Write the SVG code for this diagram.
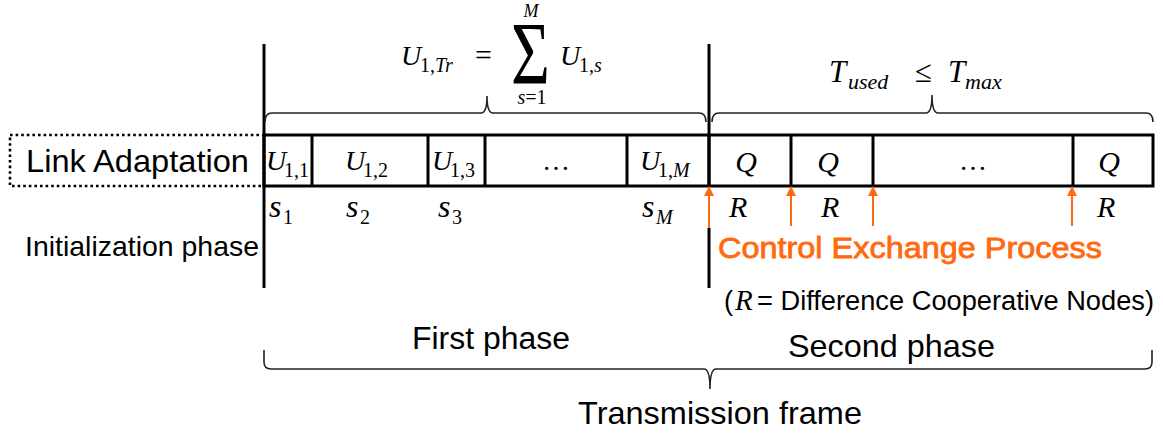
<svg xmlns="http://www.w3.org/2000/svg" width="1163" height="437" viewBox="0 0 1163 437">
<style>
.sans{font-family:"Liberation Sans",Arial,sans-serif;fill:#000}
.m{font-family:"Liberation Serif","Times New Roman",serif;fill:#000}
.i{font-style:italic}
.frame{fill:none;stroke:#000;stroke-width:3}
.brace{fill:none;stroke:#222;stroke-width:1.6}
.orange{stroke:#FF6A10;stroke-width:2;fill:none}
</style>
<defs>
<marker id="ah" viewBox="0 0 10 10" refX="9" refY="5" markerWidth="10" markerHeight="10" markerUnits="userSpaceOnUse" orient="auto">
<path d="M0,0 L10,5 L0,10 Z" fill="#FF6A10"/>
</marker>
</defs>
<rect width="1163" height="437" fill="#fff"/>

<g id="link-adaptation">
<rect x="10" y="135" width="254" height="51" fill="none" stroke="#000" stroke-width="2.6" stroke-dasharray="2.6 3"/>
<text class="sans" x="26" y="172" font-size="32" textLength="223" lengthAdjust="spacingAndGlyphs">Link Adaptation</text>
</g>

<g id="init-phase">
<text class="sans" x="25" y="256" font-size="28.5" textLength="234" lengthAdjust="spacingAndGlyphs">Initialization phase</text>
</g>

<g id="phase-lines">
<line x1="264" y1="44" x2="264" y2="288" stroke="#000" stroke-width="3"/>
<line x1="709" y1="44" x2="709" y2="187" stroke="#000" stroke-width="3"/>
<line x1="709" y1="228" x2="709" y2="288" stroke="#000" stroke-width="3"/>
</g>

<g id="slot-row">
<rect class="frame" x="264" y="135" width="889" height="51"/>
<path d="M312,135V186M428,135V186M485,135V186M627,135V186M709,135V186M791,135V186M873,135V186M1073,135V186" stroke="#000" stroke-width="3"/>
</g>

<g id="slot-u11">
<text class="m i" x="266" y="170" font-size="28">U</text>
<text class="m" x="284" y="177" font-size="20">1,1</text>
</g>
<g id="slot-u12">
<text class="m i" x="345" y="170" font-size="28">U</text>
<text class="m" x="363" y="177" font-size="20">1,2</text>
</g>
<g id="slot-u13">
<text class="m i" x="432" y="170" font-size="28">U</text>
<text class="m" x="450" y="177" font-size="20">1,3</text>
</g>
<g id="slot-dots1">
<text class="m" x="556" y="170" font-size="28" text-anchor="middle">…</text>
</g>
<g id="slot-u1m">
<text class="m i" x="640" y="170" font-size="28">U</text>
<text class="m" x="658" y="177" font-size="20">1,<tspan class="i">M</tspan></text>
</g>
<g id="slot-q1">
<text class="m i" x="746" y="172" font-size="30" text-anchor="middle">Q</text>
</g>
<g id="slot-q2">
<text class="m i" x="828" y="172" font-size="30" text-anchor="middle">Q</text>
</g>
<g id="slot-dots2">
<text class="m" x="973" y="170" font-size="28" text-anchor="middle">…</text>
</g>
<g id="slot-q3">
<text class="m i" x="1109" y="172" font-size="30" text-anchor="middle">Q</text>
</g>

<g id="slot-labels">
<text class="m i" x="269" y="217" font-size="32">s</text><text class="m" x="283" y="224" font-size="20">1</text>
<text class="m i" x="346" y="217" font-size="32">s</text><text class="m" x="360" y="224" font-size="20">2</text>
<text class="m i" x="438" y="217" font-size="32">s</text><text class="m" x="452" y="224" font-size="20">3</text>
<text class="m i" x="642" y="217" font-size="32">s</text><text class="m i" x="656" y="224" font-size="20">M</text>
<text class="m i" x="729" y="217" font-size="30">R</text>
<text class="m i" x="821" y="217" font-size="30">R</text>
<text class="m i" x="1097" y="217" font-size="30">R</text>
</g>

<g id="formula-u">
<text class="m i" x="401" y="65" font-size="28">U</text>
<text class="m" x="420" y="72" font-size="20">1,<tspan class="i">Tr</tspan></text>
<text class="m" x="475" y="65" font-size="30">=</text>
<text class="m" x="0" y="0" font-size="88" transform="translate(511,83) scale(0.76,1)">Σ</text>
<text class="m i" x="531" y="17" font-size="18" text-anchor="middle">M</text>
<text class="m" x="532" y="104" font-size="20" text-anchor="middle"><tspan class="i">s</tspan>=1</text>
<text class="m i" x="560" y="65" font-size="28">U</text>
<text class="m" x="579" y="72" font-size="20">1,<tspan class="i">s</tspan></text>
</g>

<g id="formula-t">
<text class="m i" x="829" y="82" font-size="31">T</text>
<text class="m i" x="848" y="89" font-size="22">used</text>
<text class="m" x="915" y="82" font-size="31">≤</text>
<text class="m i" x="948" y="82" font-size="31">T</text>
<text class="m i" x="965" y="89" font-size="22">max</text>
</g>

<g id="control-exchange">
<text class="sans" x="718" y="258" font-size="30" style="fill:#FF6A10;stroke:#FF6A10;stroke-width:0.8" textLength="384" lengthAdjust="spacingAndGlyphs">Control Exchange Process</text>
</g>

<g id="legend">
<text class="sans" x="724" y="310" font-size="27">(</text>
<text class="m i" x="735" y="310" font-size="29">R</text>
<text class="sans" x="757" y="310" font-size="27" textLength="397" lengthAdjust="spacingAndGlyphs">= Difference Cooperative Nodes)</text>
</g>

<g id="first-phase">
<text class="sans" x="412" y="349" font-size="31" textLength="158" lengthAdjust="spacingAndGlyphs">First phase</text>
</g>
<g id="second-phase">
<text class="sans" x="788" y="357" font-size="32" textLength="207" lengthAdjust="spacingAndGlyphs">Second phase</text>
</g>
<g id="transmission-frame">
<text class="sans" x="578" y="424" font-size="32" textLength="284" lengthAdjust="spacingAndGlyphs">Transmission frame</text>
</g>

<g id="connectors">
<path class="brace" d="M265,122 Q265,113 272,113 L481,113 Q487,113 487,96 Q487,113 493,113 L699,113 Q706,113 706,122"/>
<path class="brace" d="M712,122 Q712,113 719,113 L926,113 Q932,113 932,95 Q932,113 938,113 L1146,113 Q1153,113 1153,122"/>
<path class="brace" d="M264,350 L264,362 Q264,369 271,369 L704,369 Q710,369 710,389 Q710,369 716,369 L1145,369 Q1152,369 1152,362 L1152,350"/>
<line class="orange" x1="709" y1="228" x2="709" y2="187" marker-end="url(#ah)"/>
<line class="orange" x1="791" y1="226" x2="791" y2="187" marker-end="url(#ah)"/>
<line class="orange" x1="873" y1="226" x2="873" y2="187" marker-end="url(#ah)"/>
<line class="orange" x1="1072" y1="226" x2="1072" y2="187" marker-end="url(#ah)"/>
</g>
</svg>
